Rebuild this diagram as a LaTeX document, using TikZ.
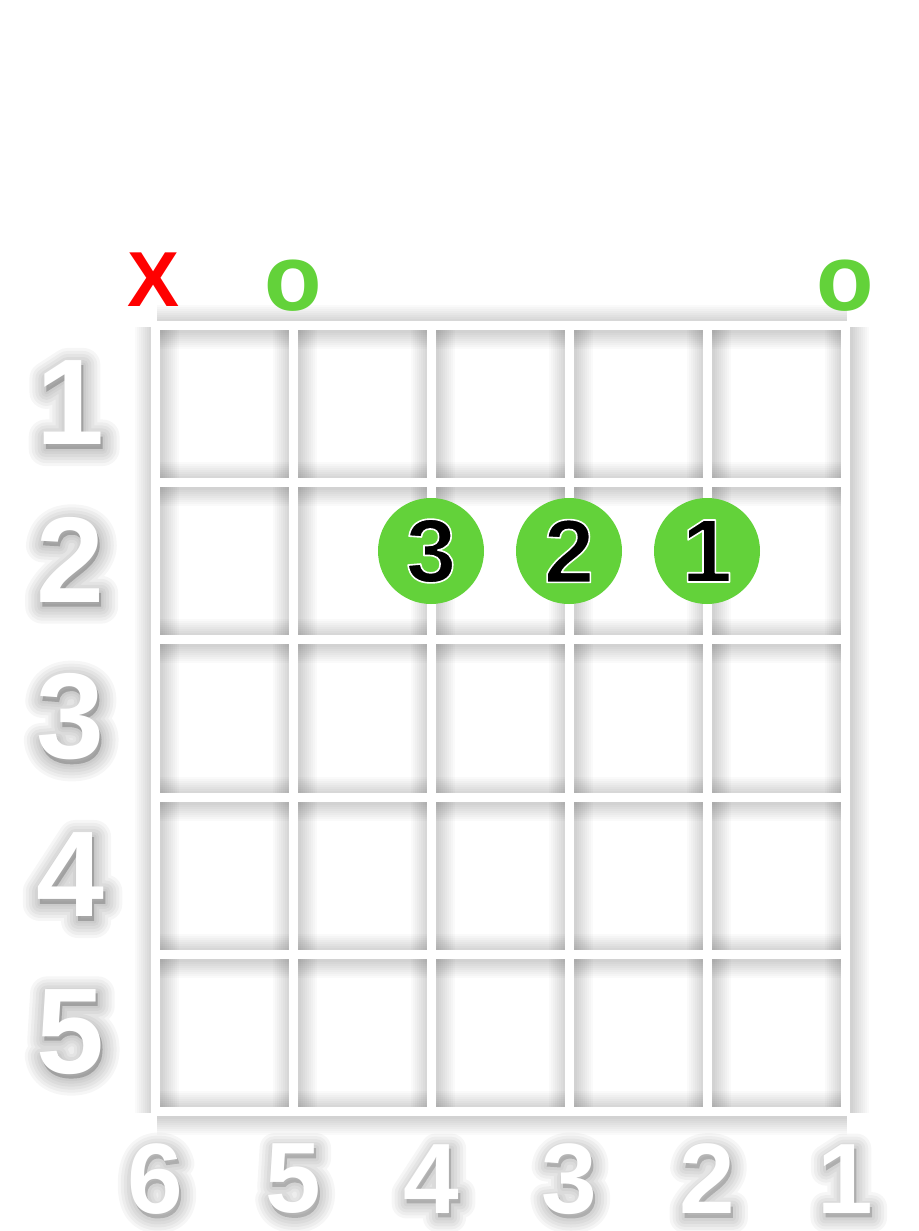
\documentclass[tikz,border=0pt]{standalone}
\usepackage{fontspec}
\setmainfont{Liberation Sans}
\definecolor{dotgreen}{RGB}{99,210,58}
\definecolor{mutered}{RGB}{255,0,0}
% stroke the glyph outline with width #1 (soft shadow layers)
\newcommand\strokedtxt[2]{\special{pdf:literal direct 1 j 1 J #1 w 2 Tr}#2\special{pdf:literal direct 0 Tr}}
% black digit with a thin white rim
\newcommand\rimtxt[1]{\special{pdf:literal direct 1 j 1 G 1.6 w 2 Tr}#1\special{pdf:literal direct 0 Tr}}

\begin{document}
\begin{tikzpicture}[x=1pt, y=-1pt, line join=miter,
  fret/.style={draw=white, line width=9pt},
  fretglow/.style={draw=black, opacity=0.02, line width=#1, line cap=square},
  txtglow/.style={text=black, opacity=0.035},
  rownum/.style={font=\fontsize{122}{122}\selectfont\bfseries, inner sep=0pt},
  strnum/.style={font=\fontsize{100}{100}\selectfont\bfseries, inner sep=0pt},
  finger/.style={circle, fill=dotgreen, minimum size=106pt, inner sep=0pt,
    font=\fontsize{90}{90}\selectfont\bfseries},
  openstr/.style={text=dotgreen, font=\fontsize{94}{94}\selectfont\bfseries, inner sep=0pt},
  mutestr/.style={text=mutered, font=\fontsize{78}{78}\selectfont\bfseries, inner sep=0pt}]

  % Page frame.
  \fill[white] (0,0) rectangle (918,1231);
  \useasboundingbox (0,0) rectangle (918,1231);

  % Grid corners and line positions.
  \coordinate (NW) at (155,325);
  \coordinate (SE) at (845,1111);
  \def\StringXs{155,293,431,569,707,845}
  \def\FretYs{325,482,639,797,954,1111}

  % Soft shadow under the grid.
  \foreach \w in {12,16,...,44} {
    \foreach \x in \StringXs
      \draw[fretglow=\w pt] (\x+2,327) -- (\x+2,1113);
    \foreach \y in \FretYs
      \draw[fretglow=\w pt] (157,\y+2) -- (847,\y+2);
  }

  % Strings and frets.
  \foreach \x in \StringXs
    \draw[fret] (\x,325) -- (\x,1111);
  \foreach \y in \FretYs
    \draw[fret] (155,\y) -- (845,\y);
  \draw[fret] (NW) rectangle (SE);

  % Fret numbers at the left, with their shadows.
  \foreach \n/\y in {1/403,2/560,3/717,4/875,5/1032} {
    \foreach \w [count=\k] in {34,28,22,16,10,5}
      \node[rownum, txtglow] (rsh\n-\k) at (72,\y+4) {\strokedtxt{\w}{\n}};
    \node[rownum, text=white] (fret\n) at (70,\y) {\n};
  }

  % String numbers below the grid, with their shadows.
  \foreach \n/\x in {6/155,5/293,4/431,3/569,2/707,1/845} {
    \foreach \w [count=\k] in {30,24,18,12,6}
      \node[strnum, txtglow] (ssh\n-\k) at (\x+2,1183) {\strokedtxt{\w}{\n}};
    \node[strnum, text=white] (string\n) at (\x,1179) {\n};
  }

  % Muted and open strings.
  \node[mutestr] (mute6) at (154,280) {X};
  \node[openstr] (open5) at (293,286) {o};
  \node[openstr] (open1) at (845,286) {o};

  % Fingers on the second fret.
  \node[finger] (finger3) at (431,551) {\rimtxt{3}};
  \node[finger] (finger2) at (569,551) {\rimtxt{2}};
  \node[finger] (finger1) at (707,551) {\rimtxt{1}};

\end{tikzpicture}
\end{document}
